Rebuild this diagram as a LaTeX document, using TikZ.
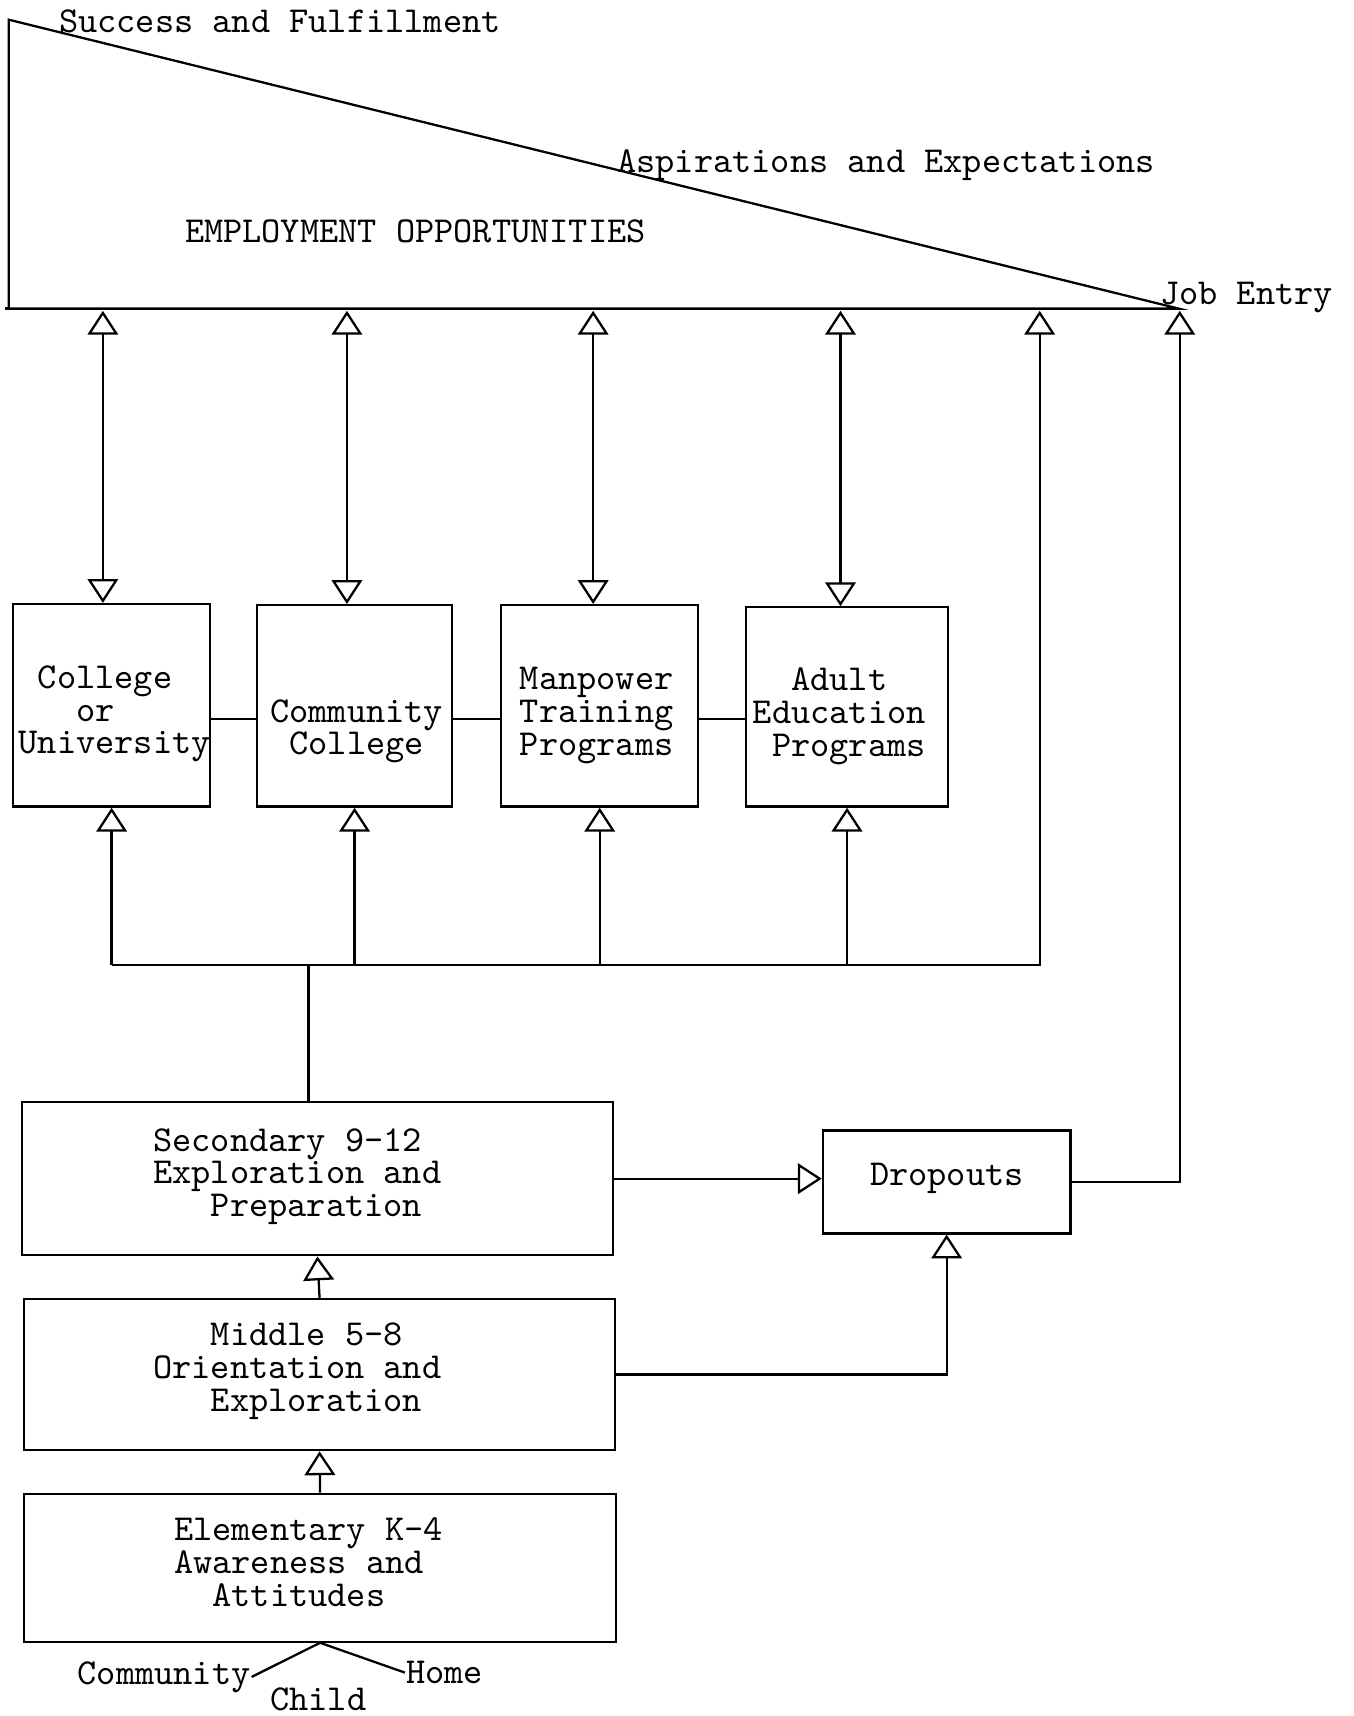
\documentclass[tikz,border=0pt]{standalone}
\usepackage{fontspec}
\usetikzlibrary{arrows.meta}
\begin{document}
\begin{tikzpicture}[x=0.010946cm,y=-0.010946cm,
  line width=0.65pt,
  every node/.style={font=\fontsize{10.4pt}{9.34pt}\selectfont\ttfamily},
  box/.style={draw, inner sep=0pt},
  lbl/.style={anchor=north west, inner sep=0pt, align=left},
  arr/.style={-{Triangle[open,length=6.8pt,width=8.7pt]}},
  dbl/.style={{Triangle[open,length=6.8pt,width=8.7pt]}-{Triangle[open,length=6.8pt,width=8.7pt]}},
]
\useasboundingbox (0,0) rectangle (1237,1568);

% employment wedge
\coordinate (apex) at (8,18);
\coordinate (base-l) at (8,282);
\coordinate (base-r) at (1077,282);
\draw (apex) -- (base-l) -- (base-r) -- cycle;
\draw (5,282) -- (base-l);

\node[lbl] (succ) at (53,8) {Success and Fulfillment};
\node[lbl] (asp) at (563,136) {Aspirations and Expectations};
\node[lbl] (emp) at (168,200) {EMPLOYMENT OPPORTUNITIES};
\node[lbl] (job) at (1059,257) {Job Entry};

% arrow tips on the base line
\coordinate (t1) at (94,284);
\coordinate (t2) at (317,284);
\coordinate (t3) at (542,284);
\coordinate (t4) at (768,284);
\coordinate (t5) at (950,284);
\coordinate (t6) at (1078,284);

% post-secondary boxes
\node[box, minimum width=1.970cm, minimum height=2.025cm] (cu) at (102,644.5) {};
\node[box, minimum width=1.948cm, minimum height=2.014cm] (cc) at (324,645) {};
\node[box, minimum width=1.970cm, minimum height=2.014cm] (mp) at (548,645) {};
\node[box, minimum width=2.014cm, minimum height=1.992cm] (ae) at (774,646) {};

\node[lbl] (cu-t) at (16,607) {\phantom{x}College\\\phantom{xxx}or\\University};
\node[lbl] (cc-t) at (246,638) {Community\\\phantom{x}College};
\node[lbl] (mp-t) at (474,609) {Manpower\\Training\\Programs};
\node[lbl] (ae-t) at (687,609) {\phantom{xx}Adult\\Education\\\phantom{x}Programs};

\coordinate (lnk) at (0,657);
\draw (cu.east |- lnk) -- (cc.west |- lnk);
\draw (cc.east |- lnk) -- (mp.west |- lnk);
\draw (mp.east |- lnk) -- (ae.west |- lnk);

\draw[dbl] (t1) -- (t1 |- cu.north);
\draw[dbl] (t2) -- (t2 |- cc.north);
\draw[dbl] (t3) -- (t3 |- mp.north);
\draw[dbl] (t4) -- (t4 |- ae.north);

% school levels
\node[box, minimum width=5.911cm, minimum height=1.532cm] (sec) at (290,1077) {};
\node[box, minimum width=5.911cm, minimum height=1.511cm] (mid) at (292,1256) {};
\node[box, minimum width=5.922cm, minimum height=1.478cm] (el) at (292.5,1432.5) {};
\node[box, minimum width=2.474cm, minimum height=1.029cm] (dr) at (865,1080) {};

\node[lbl] (sec-t) at (139,1030) {Secondary 9-12\\Exploration and\\\phantom{xxx}Preparation};
\node[lbl] (mid-t) at (139,1208) {\phantom{xxx}Middle 5-8\\Orientation and\\\phantom{xxx}Exploration};
\node[lbl] (el-t) at (158,1386) {Elementary K-4\\Awareness and\\\phantom{xx}Attitudes};
\node[lbl] (dr-t) at (794,1062) {Dropouts};

% distribution bus
\coordinate (bus) at (0,882);
\coordinate (bs) at (282,882);
\draw (bs) -- (bs |- sec.north);
\draw[arr] (cu.south |- bus) -- (t5 |- bus) -- (t5);
\draw[arr] (cu.south |- bus) -- (cu.south);
\draw[arr] (cc.south |- bus) -- (cc.south);
\draw[arr] (mp.south |- bus) -- (mp.south);
\draw[arr] (ae.south |- bus) -- (ae.south);

% progression and dropouts
\draw[arr] (mid.north) -- (sec.south);
\draw[arr] (el.north) -- (mid.south);
\draw[arr] (sec.east) -- (sec.east -| dr.west);
\draw[arr] (mid.east) -| (dr.south);
\draw[arr] (dr.east) -| (t6);

% origins
\node[lbl] (comm) at (70,1517) {Community};
\node[lbl] (home) at (370,1517) {Home};
\node[lbl] (child) at (246,1541) {Child};
\draw (el.south) -- (comm.east);
\draw (el.south) -- (home.west);
\end{tikzpicture}
\end{document}
